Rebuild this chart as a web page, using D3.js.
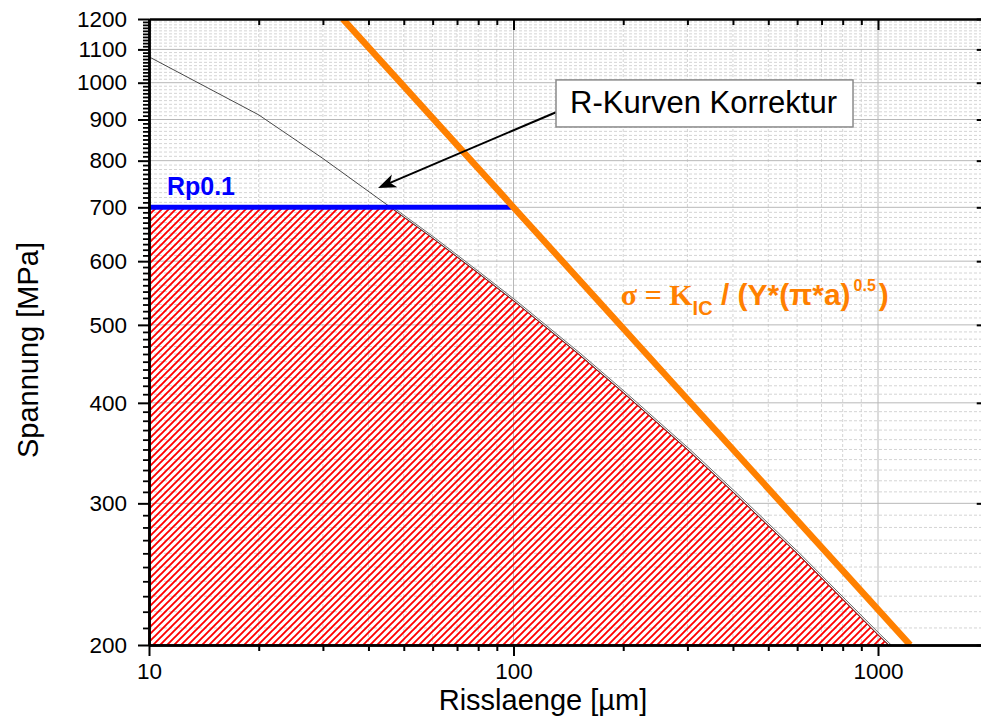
<!DOCTYPE html>
<html><head><meta charset="utf-8">
<script src="https://cdn.jsdelivr.net/npm/d3@7"></script>
<style>
html,body{margin:0;padding:0;background:#fff;overflow:hidden}
svg{display:block}
text{font-family:"Liberation Sans",Arial,sans-serif}
</style></head><body>
<svg id="chart" width="981" height="718"></svg>
<script>
// ---------- data ----------
const xDomain = [10, 2000];
const yDomain = [200, 1200];
const xMajorTicks = [10, 100, 1000];
const yMajorTicks = [200, 300, 400, 500, 600, 700, 800, 900, 1000, 1100, 1200];
const xMinorTicks = [20, 30, 40, 50, 60, 70, 80, 90, 200, 300, 400, 500, 600, 700, 800, 900, 2000];
const yMinorTicks = d3.range(210, 1200, 10).filter(v => v % 100 !== 0);

const rp01X = [10, 100];
const rp01Y = [700, 700];
const kicX = [34.03, 100, 1225];
const kicY = [1200, 700, 200];
const rCurveX = [10, 20, 30, 46, 60, 80, 100, 150, 200, 300, 400, 600, 800, 1000, 1070];
const rCurveY = [1077, 912, 805, 700, 641, 580, 536, 461, 412, 350, 310, 260, 228, 206, 200];

const xTitle = "Risslaenge [µm]";
const yTitle = "Spannung [MPa]";
const rpLabel = "Rp0.1";
const annText = "R-Kurven Korrektur";

// annotation anchors (data coordinates)
const annBox = {a0: 130.8, a1: 854, s0: 1008, s1: 881};
const annTextPos = {a: 142.9, s: 917};
const arrowFrom = {a: 130.8, s: 919};
const arrowTo = {a: 42.5, s: 740};
const rpLabelPos = {a: 11.2, s: 725};
const formulaPos = {a: 197, s: 530};

const orange = "#ff8000";
const blue = "#0000ff";
const red = "#ff0000";

// ---------- scales ----------
const L = 149, T = 19, B = 645;
const R = L + 364.5 * Math.log10(xDomain[1] / xDomain[0]);
const x = d3.scaleLog().domain(xDomain).range([L, R]);
const y = d3.scaleLog().domain(yDomain).range([B, T]);

const svg = d3.select("#chart");
const defs = svg.append("defs");
defs.append("clipPath").attr("id", "plotclip").append("rect")
  .attr("x", L).attr("y", T).attr("width", R - L).attr("height", B - T);
const pat = defs.append("pattern").attr("id", "hatch").attr("patternUnits", "userSpaceOnUse")
  .attr("width", 7).attr("height", 7);
pat.append("path").attr("d", "M0,7 L7,0 M-1,1 L1,-1 M6,8 L8,6")
  .attr("stroke", red).attr("stroke-width", 1.9).attr("fill", "none");

// ---------- grid ----------
const grid = svg.append("g");
grid.selectAll(".gxm").data(xMinorTicks.filter(d => x(d) <= R)).join("line")
  .attr("x1", d => x(d)).attr("x2", d => x(d)).attr("y1", T).attr("y2", B)
  .attr("stroke", "#d4d4d4").attr("stroke-width", 1).attr("stroke-dasharray", "3,2");
grid.selectAll(".gym").data(yMinorTicks).join("line")
  .attr("x1", L).attr("x2", R).attr("y1", d => y(d)).attr("y2", d => y(d))
  .attr("stroke", "#d4d4d4").attr("stroke-width", 1).attr("stroke-dasharray", "3,2");
grid.selectAll(".gx").data(xMajorTicks.slice(1)).join("line")
  .attr("x1", d => x(d)).attr("x2", d => x(d)).attr("y1", T).attr("y2", B)
  .attr("stroke", "#b8b8b8").attr("stroke-width", 1);
grid.selectAll(".gy").data(yMajorTicks.slice(1, -1)).join("line")
  .attr("x1", L).attr("x2", R).attr("y1", d => y(d)).attr("y2", d => y(d))
  .attr("stroke", "#b8b8b8").attr("stroke-width", 1);

// ---------- hatched region ----------
const curvePts = rCurveX.map((a, i) => [a, rCurveY[i]]);
const lowPts = curvePts.filter(p => p[1] <= rp01Y[0]);
const poly = [[rp01X[0], yDomain[0]], [rp01X[0], rp01Y[0]]].concat(lowPts);
poly.push([poly[poly.length - 1][0], yDomain[0]]);
const lineXY = d3.line().x(p => x(p[0])).y(p => y(p[1]));
svg.append("path")
  .attr("d", lineXY(poly) + "Z")
  .attr("fill", "url(#hatch)").attr("stroke", red).attr("stroke-width", 1.2);
svg.append("path")
  .attr("d", d3.line().x(p => x(p[0]) + 1.5).y(p => y(p[1]))(lowPts))
  .attr("fill", "none").attr("stroke", "#fff").attr("stroke-width", 1.5);

// R-curve
svg.append("path")
  .attr("d", lineXY(curvePts))
  .attr("fill", "none").attr("stroke", "#333").attr("stroke-width", 0.9);
svg.append("path")
  .attr("d", d3.line().x(p => x(p[0]) + 2.5).y(p => y(p[1]))(lowPts))
  .attr("fill", "none").attr("stroke", "#444").attr("stroke-width", 0.8);

// Rp0.1 line
svg.append("path")
  .attr("d", d3.line().x((d, i) => x(rp01X[i])).y((d, i) => y(rp01Y[i]))(rp01X))
  .attr("fill", "none").attr("stroke", blue).attr("stroke-width", 5);

// KIC line
svg.append("path").attr("clip-path", "url(#plotclip)")
  .attr("d", d3.line().x((d, i) => x(kicX[i])).y((d, i) => y(kicY[i]))(kicX))
  .attr("fill", "none").attr("stroke", orange).attr("stroke-width", 6.5);

// ---------- annotation ----------
const ax1 = x(arrowFrom.a), ay1 = y(arrowFrom.s), ax2 = x(arrowTo.a), ay2 = y(arrowTo.s);
const ang = Math.atan2(ay2 - ay1, ax2 - ax1);
const hl = 18, hw = 7;
const bx = ax2 - hl * Math.cos(ang), by = ay2 - hl * Math.sin(ang);
svg.append("line").attr("x1", ax1).attr("y1", ay1).attr("x2", bx + 5*Math.cos(ang)).attr("y2", by + 5*Math.sin(ang))
  .attr("stroke", "#000").attr("stroke-width", 2);
svg.append("path")
  .attr("d", `M${ax2},${ay2} L${bx - hw * Math.sin(ang)},${by + hw * Math.cos(ang)} L${bx + 5*Math.cos(ang)},${by + 5*Math.sin(ang)} L${bx + hw * Math.sin(ang)},${by - hw * Math.cos(ang)} Z`)
  .attr("fill", "#000");
svg.append("rect")
  .attr("x", x(annBox.a0)).attr("y", y(annBox.s0))
  .attr("width", x(annBox.a1) - x(annBox.a0)).attr("height", y(annBox.s1) - y(annBox.s0))
  .attr("fill", "#fff").attr("stroke", "#8a8a8a").attr("stroke-width", 1.5);
svg.append("text").attr("x", x(annTextPos.a)).attr("y", y(annTextPos.s))
  .attr("font-size", 31).attr("fill", "#000").text(annText);

svg.append("text").attr("x", x(rpLabelPos.a)).attr("y", y(rpLabelPos.s))
  .attr("font-size", 25).attr("font-weight", "bold").attr("fill", blue).text(rpLabel);

const f = svg.append("text").attr("x", x(formulaPos.a)).attr("y", y(formulaPos.s))
  .attr("fill", orange).attr("font-weight", "bold");
f.append("tspan").attr("font-family", "'Liberation Serif',serif").attr("font-size", 30).text("σ = K");
f.append("tspan").attr("font-size", 20).attr("dy", 10).text("IC");
f.append("tspan").attr("font-size", 30).attr("dy", -10).text(" / (Y*(π*a)");
f.append("tspan").attr("font-size", 16).attr("dy", -14).attr("dx", 3).text("0.5");
f.append("tspan").attr("font-size", 30).attr("dy", 14).attr("dx", 3).text(")");

// ---------- axes ----------
function styleAxis(g, w) {
  g.select(".domain").attr("stroke", "#000").attr("stroke-width", w);
  g.selectAll(".tick line").attr("stroke", "#000").attr("stroke-width", 2);
  g.selectAll(".tick text").attr("font-size", 22.5).attr("fill", "#000")
    .attr("font-family", "'Liberation Sans',Arial,sans-serif");
}
// left
svg.append("g").attr("transform", `translate(${L},0)`)
  .call(d3.axisLeft(y).tickValues(yMinorTicks).tickSize(6).tickFormat("").tickSizeOuter(0))
  .call(g => styleAxis(g, 2.5)).call(g => g.selectAll(".tick line").attr("stroke-width", 1.8));
svg.append("g").attr("transform", `translate(${L},0)`)
  .call(d3.axisLeft(y).tickValues(yMajorTicks).tickSize(11).tickPadding(11).tickFormat(d3.format("d")).tickSizeOuter(0))
  .call(g => styleAxis(g, 2.5));
// bottom
svg.append("g").attr("transform", `translate(0,${B})`)
  .call(d3.axisBottom(x).tickValues(xMinorTicks).tickSize(6).tickFormat("").tickSizeOuter(0))
  .call(g => styleAxis(g, 2.5));
svg.append("g").attr("transform", `translate(0,${B})`)
  .call(d3.axisBottom(x).tickValues(xMajorTicks).tickSize(11).tickPadding(7).tickFormat(d3.format("d")).tickSizeOuter(0))
  .call(g => styleAxis(g, 2.5));
// top (inward ticks)
svg.append("g").attr("transform", `translate(0,${T})`)
  .call(d3.axisTop(x).tickValues(xMinorTicks).tickSize(-6).tickFormat("").tickSizeOuter(0))
  .call(g => styleAxis(g, 2.2));
svg.append("g").attr("transform", `translate(0,${T})`)
  .call(d3.axisTop(x).tickValues(xMajorTicks).tickSize(-11).tickFormat("").tickSizeOuter(0))
  .call(g => styleAxis(g, 2.2));
// right (inward major ticks)
svg.append("g").attr("transform", `translate(${R},0)`)
  .call(d3.axisRight(y).tickValues(yMajorTicks).tickSize(-11).tickFormat("").tickSizeOuter(0))
  .call(g => styleAxis(g, 2.5));

// titles
svg.append("text").attr("x", 543).attr("y", 710).attr("text-anchor", "middle")
  .attr("font-size", 29).attr("fill", "#000").text(xTitle);
svg.append("text").attr("transform", "translate(38,350) rotate(-90)").attr("text-anchor", "middle")
  .attr("font-size", 29).attr("fill", "#000").text(yTitle);
</script>
</body></html>
